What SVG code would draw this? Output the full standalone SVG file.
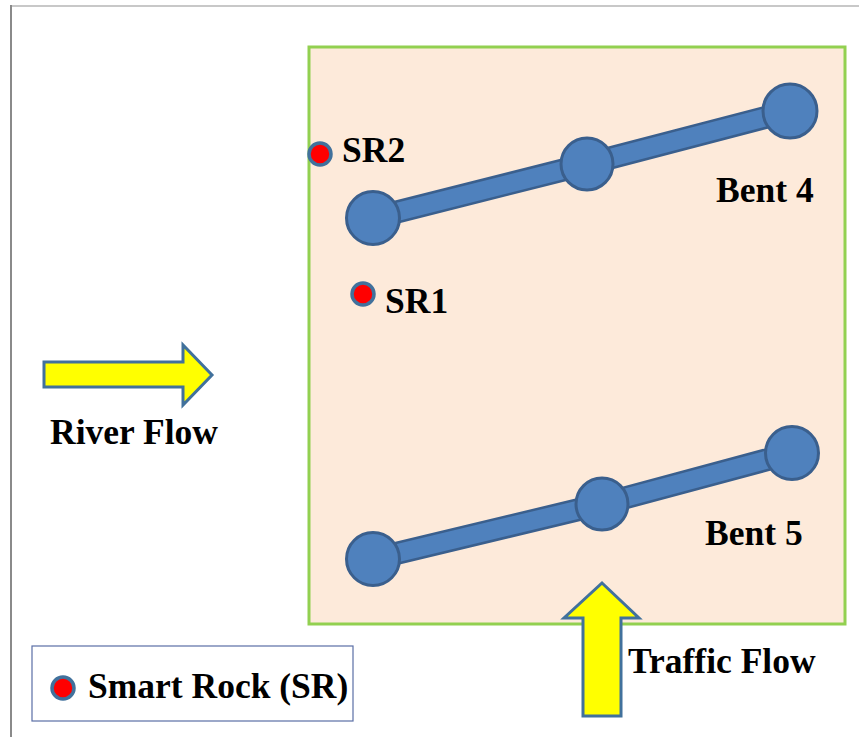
<svg xmlns="http://www.w3.org/2000/svg" width="859" height="737" viewBox="0 0 859 737">
<style>
.lbl{font-family:"Liberation Serif","Times New Roman",serif;font-weight:bold;font-size:35.5px;fill:#000}
.pier{fill:#4f81bd;stroke:#3a5f8d;stroke-width:3}
.rock{fill:#ff0000;stroke:#41719c;stroke-width:3.5}
.barO{fill:none;stroke:#3a5f8d;stroke-width:23;stroke-linejoin:round}
.barI{fill:none;stroke:#4f81bd;stroke-width:18;stroke-linejoin:round}
.arrow{fill:#ffff00;stroke:#41719c;stroke-width:3;stroke-linejoin:miter}
</style>
<rect width="859" height="737" fill="#ffffff"/>
<line x1="11" y1="6" x2="859" y2="6" stroke="#c8c8c8" stroke-width="2"/>
<line x1="11" y1="5" x2="11" y2="737" stroke="#8a8a8a" stroke-width="2"/>
<g id="site">
<rect x="309" y="47" width="536" height="577" fill="#fdeada" stroke="#92d050" stroke-width="3"/>
</g>
<g id="connectors">
<polyline class="barO" points="373,218 587,164 790,111"/>
<polyline class="barI" points="373,218 587,164 790,111"/>
<polyline class="barO" points="373,559 602,504 792,453"/>
<polyline class="barI" points="373,559 602,504 792,453"/>
</g>
<g id="bent4">
<circle class="pier" cx="373" cy="218" r="26.5"/>
<circle class="pier" cx="587" cy="164" r="26"/>
<circle class="pier" cx="790" cy="111" r="27"/>
<text class="lbl" x="716" y="202">Bent 4</text>
</g>
<g id="bent5">
<circle class="pier" cx="373" cy="559" r="26.5"/>
<circle class="pier" cx="602" cy="504" r="26"/>
<circle class="pier" cx="792" cy="453" r="26.5"/>
<text class="lbl" x="705" y="545">Bent 5</text>
</g>
<g id="sr2">
<circle class="rock" cx="320" cy="154" r="11"/>
<text class="lbl" x="342" y="162">SR2</text>
</g>
<g id="sr1">
<circle class="rock" cx="363" cy="294" r="11"/>
<text class="lbl" x="385" y="313">SR1</text>
</g>
<g id="river-flow">
<polygon class="arrow" points="44,362 183,362 183,345 212,375 183,405 183,387 44,387"/>
<text class="lbl" x="50" y="444">River Flow</text>
</g>
<g id="traffic-flow">
<polygon class="arrow" points="602,583 639,618 621,618 621,716 583,716 583,618 564,618"/>
<text class="lbl" x="628" y="673">Traffic Flow</text>
</g>
<g id="legend">
<rect x="32" y="646" width="321" height="75" fill="#ffffff" stroke="#5a6ea6" stroke-width="1.2"/>
<circle class="rock" cx="63" cy="688" r="11"/>
<text class="lbl" x="88" y="698">Smart Rock (SR)</text>
</g>
</svg>
